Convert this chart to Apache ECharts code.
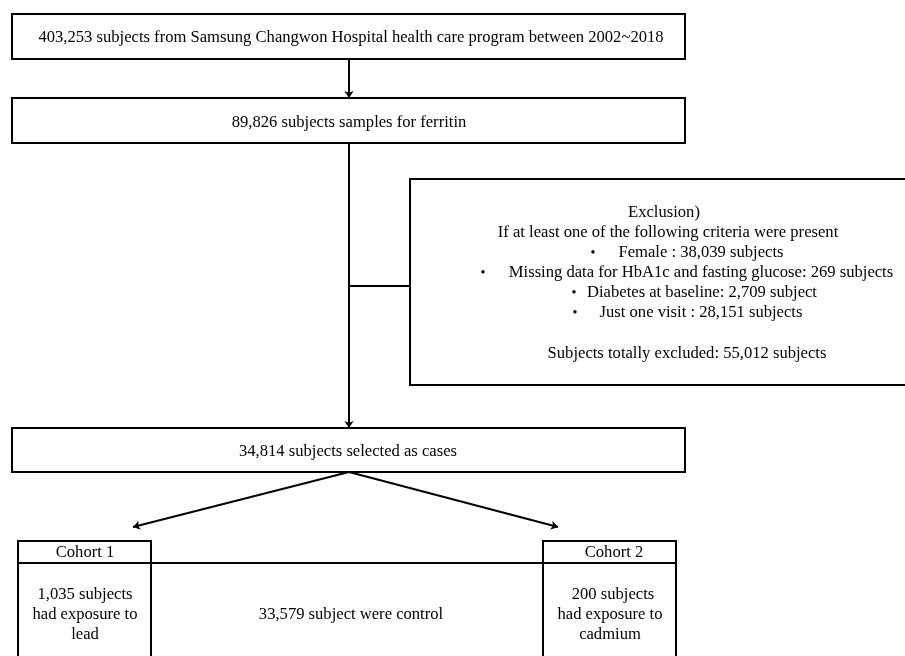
<!DOCTYPE html>
<html>
<head>
<meta charset="utf-8">
<script src="https://cdn.jsdelivr.net/npm/echarts@6/dist/echarts.min.js"></script>
<style>
  html, body { margin: 0; padding: 0; background: #fff; }
  #main { width: 905px; height: 656px; }
</style>
</head>
<body>
<div id="main"></div>
<script>
// flow boxes: [x0, y0, x1, y1] in page units
const boxRects = [
  [12, 14, 685, 59],
  [12, 98, 685, 143],
  [410, 179, 912, 385],
  [12, 428, 685, 472],
  [18, 541, 151, 563],
  [18, 563, 151, 670],
  [543, 541, 676, 563],
  [543, 563, 676, 670]
];

// text lines: [cx, cy] + label
const textPos = [
  [351, 38], [349, 123],
  [664, 213], [668, 233], [701, 253], [701, 273], [702, 293], [701, 313], [687, 354],
  [348, 452],
  [85, 553], [614, 553],
  [85, 595], [85, 615], [85, 635],
  [351, 615],
  [613, 595], [610, 615], [610, 635]
];
const textLabels = [
  "403,253 subjects from Samsung Changwon Hospital health care program between 2002~2018",
  "89,826 subjects samples for ferritin",
  "Exclusion)",
  "If at least one of the following criteria were present",
  "Female : 38,039 subjects",
  "Missing data for HbA1c and fasting glucose: 269 subjects",
  "Diabetes at baseline: 2,709 subject",
  "Just one visit : 28,151 subjects",
  "Subjects totally excluded: 55,012 subjects",
  "34,814 subjects selected as cases",
  "Cohort 1",
  "Cohort 2",
  "1,035 subjects", "had exposure to", "lead",
  "33,579 subject were control",
  "200 subjects", "had exposure to", "cadmium"
];

// bullet points of the exclusion list
const bulletPos = [[593, 253], [483, 273], [574, 293], [575, 313]];

// connectors
const arrowLines = [
  [[349, 59], [349, 98]],
  [[349, 143], [349, 428]],
  [[349, 472], [133, 527]],
  [[349, 472], [558, 527]]
];
const plainLines = [
  [[349, 286], [410, 286]],
  [[151, 563], [543, 563]]
];

const font = '"Liberation Serif", "Times New Roman", serif';

const chart = echarts.init(document.getElementById('main'), null, { renderer: 'canvas' });

const option = {
  backgroundColor: '#fff',
  animation: false,
  grid: { left: 0, right: 0, top: 0, bottom: 0 },
  xAxis: { type: 'value', min: 0, max: 905, show: false },
  yAxis: { type: 'value', min: 0, max: 656, inverse: true, show: false },
  series: [
    {
      type: 'custom',
      clip: true,
      data: boxRects,
      renderItem: function (params, api) {
        const p0 = api.coord([api.value(0), api.value(1)]);
        const p1 = api.coord([api.value(2), api.value(3)]);
        return {
          type: 'rect',
          shape: { x: p0[0], y: p0[1], width: p1[0] - p0[0], height: p1[1] - p0[1] },
          style: { fill: '#fff', stroke: '#000', lineWidth: 2 }
        };
      }
    },
    {
      type: 'lines',
      coordinateSystem: 'cartesian2d',
      symbol: ['none', 'arrow'],
      symbolSize: 7,
      lineStyle: { color: '#000', width: 2, opacity: 1 },
      data: arrowLines.map(c => ({ coords: c }))
    },
    {
      type: 'lines',
      coordinateSystem: 'cartesian2d',
      symbol: 'none',
      lineStyle: { color: '#000', width: 2, opacity: 1 },
      data: plainLines.map(c => ({ coords: c }))
    },
    {
      type: 'custom',
      data: textPos,
      renderItem: function (params, api) {
        const p = api.coord([api.value(0), api.value(1)]);
        return {
          type: 'text',
          x: p[0], y: p[1],
          style: {
            text: textLabels[params.dataIndex],
            fontFamily: font, fontSize: 16.6, fill: '#000',
            align: 'center', verticalAlign: 'middle'
          }
        };
      }
    },
    {
      type: 'custom',
      data: bulletPos,
      renderItem: function (params, api) {
        const p = api.coord([api.value(0), api.value(1)]);
        return {
          type: 'text',
          x: p[0], y: p[1],
          style: {
            text: '•',
            fontFamily: font, fontSize: 14, fill: '#000',
            align: 'center', verticalAlign: 'middle'
          }
        };
      }
    }
  ]
};

chart.setOption(option);
</script>
</body>
</html>
